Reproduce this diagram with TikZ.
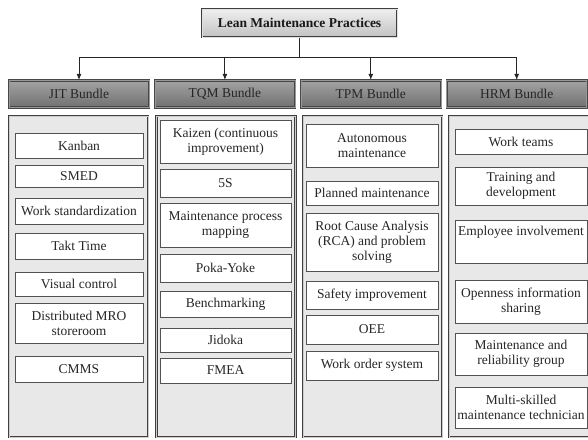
\documentclass[tikz,border=0pt]{standalone}
\usepackage{fontspec}
\setmainfont{Liberation Serif}
\usetikzlibrary{arrows.meta, positioning}

\begin{document}
\begin{tikzpicture}[
          x=1pt, y=-1pt,
          font=\fontsize{13.5}{15}\selectfont,
          title/.style={draw=black!75, line width=1pt, double=black!12, double distance=0.8pt,
                        top color=black!6, bottom color=black!24, text=black!90,
                        font=\fontsize{13.5}{15}\selectfont\bfseries,
                        minimum width=195pt, minimum height=28pt},
          bundle/.style={draw=black!72, line width=0.9pt, double=black!40, double distance=0.6pt,
                         top color=black!36, bottom color=black!56, text=black!85,
                         minimum width=140pt, minimum height=27pt},
          panel/.style={draw=black!75, line width=0.9pt, double=black!20, double distance=0.7pt,
                        fill=black!9, minimum width=139pt, minimum height=321pt},
          box/.style={draw=black!68, line width=0.85pt, fill=white, align=center,
                      inner sep=2pt, text=black!85},
          jitbox/.style={box, minimum width=128pt},
          tqmbox/.style={box, minimum width=131pt},
          tpmbox/.style={box, minimum width=132pt},
          hrmbox/.style={box, minimum width=132pt},
          line/.style={black!85, line width=1pt},
          arr/.style={line, -{Latex[length=2.2mm, width=1.8mm]}}
        ]
        \useasboundingbox (0,0) rectangle (588,439);
        \clip (0,0) rectangle (588,439);

        \node[title] (lean) at (299.5,23) {Lean Maintenance Practices};

        \node[bundle] (jit) at (79,94) {JIT Bundle};
        \node[bundle, right=5pt of jit] (tqm) {TQM Bundle};
        \node[bundle, right=5pt of tqm] (tpm) {TPM Bundle};
        \node[bundle, right=5pt of tpm] (hrm) {HRM Bundle};

        \node[panel] (jitpanel) at (78.5,276.5) {};
        \node[panel] (tqmpanel) at (226,276.5) {};
        \node[panel] (tpmpanel) at (372.5,276.5) {};
        \node[panel, minimum width=143pt] (hrmpanel) at (520.5,276.5) {};

        % JIT
        \node[jitbox, minimum height=25pt] (kanban) at (79,145.5) {Kanban};
        \node[jitbox, minimum height=22pt] (smed) at (79,176) {SMED};
        \node[jitbox, minimum height=26pt] (workstd) at (79,211) {Work standardization};
        \node[jitbox, minimum height=26pt] (takt) at (79,246) {Takt Time};
        \node[jitbox, minimum height=24pt] (visual) at (79,284) {Visual control};
        \node[jitbox, minimum height=40pt] (mro) at (79,323) {Distributed MRO\\storeroom};
        \node[jitbox, minimum height=26pt] (cmms) at (79,369) {CMMS};

        % TQM
        \node[tqmbox, minimum height=43pt] (kaizen) at (225.5,141.5) {Kaizen (continuous\\improvement)};
        \node[tqmbox, minimum height=28pt] (fives) at (225.5,183) {5S};
        \node[tqmbox, minimum height=44pt] (mapping) at (225.5,225) {Maintenance process\\mapping};
        \node[tqmbox, minimum height=28pt] (poka) at (225.5,268) {Poka-Yoke};
        \node[tqmbox, minimum height=26pt] (bench) at (225.5,304) {Benchmarking};
        \node[tqmbox, minimum height=24pt] (jidoka) at (225.5,340) {Jidoka};
        \node[tqmbox, minimum height=25pt] (fmea) at (225.5,370.5) {FMEA};

        % TPM
        \node[tpmbox, minimum height=43pt] (autonomous) at (372,145.5) {Autonomous\\maintenance};
        \node[tpmbox, minimum height=24pt] (planned) at (372,193) {Planned maintenance};
        \node[tpmbox, minimum height=58pt] (rca) at (372,242) {Root Cause Analysis\\(RCA) and problem\\solving};
        \node[tpmbox, minimum height=28pt] (safety) at (372,295) {Safety improvement};
        \node[tpmbox, minimum height=29pt] (oee) at (372,329.5) {OEE};
        \node[tpmbox, minimum height=29pt] (workorder) at (372,365.5) {Work order system};

        % HRM
        \node[hrmbox, minimum height=25pt] (teams) at (521,141.5) {Work teams};
        \node[hrmbox, minimum height=38pt] (training) at (521,186) {Training and\\development};
        \node[hrmbox, minimum height=43pt, text depth=22pt] (involve) at (521,241.5) {Employee involvement};
        \node[hrmbox, minimum height=43pt] (openness) at (521,301.5) {Openness information\\sharing};
        \node[hrmbox, minimum height=42pt] (reliab) at (521,354) {Maintenance and\\reliability group};
        \node[hrmbox, minimum height=41pt] (multi) at (521,407.5) {Multi-skilled\\maintenance technician};

        \coordinate[below=20pt of lean.south] (split);
        \draw[line] (lean.south) -- (split);
        \draw[line] (jit.north |- split) -- (hrm.north |- split);
        \draw[arr] (jit.north |- split) -- (jit.north);
        \draw[arr] (tqm.north |- split) -- (tqm.north);
        \draw[arr] (tpm.north |- split) -- (tpm.north);
        \draw[arr] (hrm.north |- split) -- (hrm.north);
      \end{tikzpicture}
\end{document}
